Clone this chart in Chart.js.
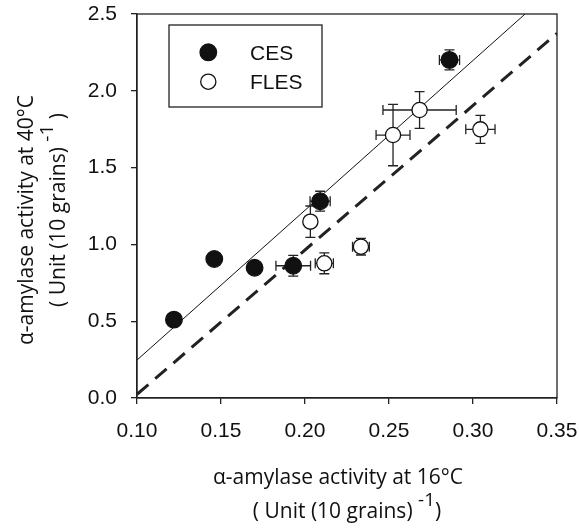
<!DOCTYPE html>
<html>
<head>
<meta charset="utf-8">
<script src="https://cdn.jsdelivr.net/npm/chart.js@4.4.1/dist/chart.umd.min.js"></script>
<style>
  html, body { margin: 0; padding: 0; background: #fff; }
  #wrap { width: 579px; height: 531px; position: relative; }
</style>
</head>
<body>
<div id="wrap"><canvas id="c" width="579" height="531"></canvas></div>
<script>
// ---- data ----
const cesX    = [0.122, 0.146, 0.170, 0.193, 0.209, 0.286];
const cesY    = [0.510, 0.905, 0.848, 0.861, 1.281, 2.201];
const cesXErr = [0, 0, 0, 0.0103, 0.006, 0.006];
const cesYErr = [0, 0, 0, 0.067, 0.065, 0.065];

const flesX    = [0.2032, 0.2115, 0.2333, 0.2524, 0.2682, 0.3044];
const flesY    = [1.148, 0.877, 0.985, 1.712, 1.875, 1.749];
const flesXErr = [0, 0.0054, 0.005, 0.0101, 0.0218, 0.0087];
const flesYErr = [0.102, 0.068, 0.054, 0.200, 0.119, 0.091];

const fitLineX  = [0.10, 0.331];
const fitLineY  = [0.247, 2.50];
const oneLineX  = [0.10, 0.35];
const oneLineY  = [0.024, 2.374];

const xTicks = [0.10, 0.15, 0.20, 0.25, 0.30, 0.35];
const yTicks = [0.0, 0.5, 1.0, 1.5, 2.0, 2.5];

const seriesNames = ['CES', 'FLES'];
const xTitle1 = 'α-amylase activity at 16°C';
const xTitle2 = '( Unit (10 grains) ';
const yTitle1 = 'α-amylase activity at 40°C';
const yTitle2 = '( Unit (10 grains) ';
const supText = '-1';

function pts(xs, ys, xe, ye) {
  return xs.map((x, i) => ({ x: x, y: ys[i], xErr: xe ? xe[i] : 0, yErr: ye ? ye[i] : 0 }));
}

const TITLE_FONT = '"Open Sans", "Noto Sans", sans-serif';
const TICK_FONT = '"Liberation Sans", Arial, sans-serif';
const TITLE_SIZE = 21;

// error bars, drawn just before each point dataset
const errorBars = {
  id: 'errorBars',
  beforeDatasetDraw(chart, args) {
    const ds = chart.data.datasets[args.index];
    if (!ds.errorBars) return;
    const ctx = chart.ctx, xs = chart.scales.x, ys = chart.scales.y;
    const cap = 5;
    ctx.save();
    ctx.strokeStyle = '#222';
    ctx.lineWidth = 1.3;
    ds.data.forEach(p => {
      const px = xs.getPixelForValue(p.x), py = ys.getPixelForValue(p.y);
      if (p.yErr) {
        const t = ys.getPixelForValue(p.y + p.yErr), b = ys.getPixelForValue(p.y - p.yErr);
        ctx.beginPath();
        ctx.moveTo(px, t); ctx.lineTo(px, b);
        ctx.moveTo(px - cap, t); ctx.lineTo(px + cap, t);
        ctx.moveTo(px - cap, b); ctx.lineTo(px + cap, b);
        ctx.stroke();
      }
      if (p.xErr) {
        const l = xs.getPixelForValue(p.x - p.xErr), r = xs.getPixelForValue(p.x + p.xErr);
        ctx.beginPath();
        ctx.moveTo(l, py); ctx.lineTo(r, py);
        ctx.moveTo(l, py - cap); ctx.lineTo(l, py + cap);
        ctx.moveTo(r, py - cap); ctx.lineTo(r, py + cap);
        ctx.stroke();
      }
    });
    ctx.restore();
  }
};

// frame, legend and axis titles
const decor = {
  id: 'decor',
  afterDraw(chart) {
    const ctx = chart.ctx, a = chart.chartArea;
    ctx.save();
    // frame
    ctx.strokeStyle = '#222';
    ctx.lineWidth = 1.3;
    ctx.strokeRect(a.left, a.top, a.right - a.left, a.bottom - a.top);

    // legend
    const lx = 169, ly = 25, lw = 153, lh = 82;
    ctx.lineWidth = 1.3;
    ctx.strokeStyle = '#222';
    ctx.fillStyle = '#fff';
    ctx.fillRect(lx, ly, lw, lh);
    ctx.strokeRect(lx, ly, lw, lh);
    const rows = [52.3, 81.7];
    chart.data.datasets.filter(d => d.errorBars).forEach((d, i) => {
      ctx.beginPath();
      ctx.arc(208.3, rows[i], d.pointRadius, 0, Math.PI * 2);
      ctx.fillStyle = d.backgroundColor;
      ctx.fill();
      ctx.lineWidth = d.borderWidth;
      ctx.strokeStyle = d.borderColor;
      ctx.stroke();
      ctx.fillStyle = '#111';
      ctx.font = '21px ' + TICK_FONT;
      ctx.textAlign = 'left';
      ctx.textBaseline = 'alphabetic';
      ctx.fillText(d.label, 250, rows[i] + 7.5);
    });

    // x title
    ctx.fillStyle = '#111';
    ctx.textBaseline = 'alphabetic';
    ctx.font = TITLE_SIZE + 'px ' + TITLE_FONT;
    ctx.textAlign = 'center';
    ctx.fillText(xTitle1, 338, 484);
    drawWithSup(ctx, xTitle2, supText, ')', 347, 518);

    // y title (rotated)
    ctx.save();
    ctx.translate(33, 220);
    ctx.rotate(-Math.PI / 2);
    ctx.font = TITLE_SIZE + 'px ' + TITLE_FONT;
    ctx.textAlign = 'center';
    ctx.fillText(yTitle1, 0, 0);
    ctx.restore();
    ctx.save();
    ctx.translate(65, 210);
    ctx.rotate(-Math.PI / 2);
    drawWithSup(ctx, yTitle2, supText, ' )', 0, 0);
    ctx.restore();

    ctx.restore();
  }
};

function drawWithSup(ctx, main, sup, tail, cx, y) {
  const f = TITLE_SIZE + 'px ' + TITLE_FONT;
  const fs = '19px ' + TITLE_FONT;
  ctx.font = f;
  const w1 = ctx.measureText(main).width;
  ctx.font = fs;
  const w2 = ctx.measureText(sup).width;
  ctx.font = f;
  const w3 = ctx.measureText(tail).width;
  const total = w1 + w2 + w3;
  let x = cx - total / 2;
  ctx.textAlign = 'left';
  ctx.fillText(main, x, y); x += w1;
  ctx.font = fs;
  ctx.fillText(sup, x, y - 12); x += w2;
  ctx.font = f;
  ctx.fillText(tail, x, y);
}

new Chart(document.getElementById('c'), {
  type: 'scatter',
  data: {
    datasets: [
      {
        label: seriesNames[0],
        data: pts(cesX, cesY, cesXErr, cesYErr),
        errorBars: true,
        pointRadius: 8.3,
        pointHoverRadius: 8.3,
        backgroundColor: '#111',
        borderColor: '#111',
        borderWidth: 1.3,
        order: 1
      },
      {
        label: seriesNames[1],
        data: pts(flesX, flesY, flesXErr, flesYErr),
        errorBars: true,
        pointRadius: 7.6,
        pointHoverRadius: 7.6,
        backgroundColor: '#fff',
        borderColor: '#111',
        borderWidth: 1.3,
        order: 2
      },
      {
        type: 'line',
        label: 'fit',
        data: pts(fitLineX, fitLineY),
        showLine: true,
        borderColor: '#111',
        borderWidth: 1,
        pointRadius: 0,
        fill: false,
        order: 5
      },
      {
        type: 'line',
        label: 'oneToOne',
        data: pts(oneLineX, oneLineY),
        showLine: true,
        borderColor: '#222',
        borderWidth: 3,
        borderDash: [15, 9],
        pointRadius: 0,
        fill: false,
        order: 6
      }
    ]
  },
  options: {
    responsive: false,
    animation: false,
    devicePixelRatio: 1,
    layout: { padding: { left: 0, top: 14, right: 22, bottom: 0 } },
    plugins: { legend: { display: false }, tooltip: { enabled: false } },
    scales: {
      x: {
        type: 'linear',
        min: 0.10, max: 0.35,
        afterFit(s) { s.height = 133; s.paddingLeft = 0; s.paddingRight = 0; },
        afterBuildTicks(s) { s.ticks = xTicks.map(v => ({ value: v })); },
        ticks: {
          callback: v => Number(v).toFixed(2),
          color: '#111',
          font: { family: TICK_FONT, size: 21 },
          padding: 15,
          maxRotation: 0
        },
        grid: { drawOnChartArea: false, drawTicks: true, tickLength: 6, color: '#222', lineWidth: 1.3 },
        border: { display: true, color: '#222', width: 1.3 }
      },
      y: {
        type: 'linear',
        min: 0, max: 2.5,
        afterFit(s) { s.width = 137; s.paddingTop = 0; s.paddingBottom = 0; },
        afterBuildTicks(s) { s.ticks = yTicks.map(v => ({ value: v })); },
        ticks: {
          callback: v => Number(v).toFixed(1),
          color: '#111',
          font: { family: TICK_FONT, size: 21 },
          padding: 14
        },
        grid: { drawOnChartArea: false, drawTicks: true, tickLength: 6, color: '#222', lineWidth: 1.3 },
        border: { display: true, color: '#222', width: 1.3 }
      }
    }
  },
  plugins: [errorBars, decor]
});
</script>
</body>
</html>
